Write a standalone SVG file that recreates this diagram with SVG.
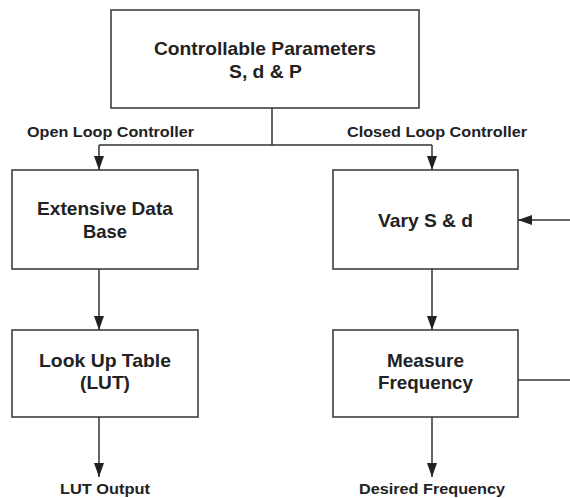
<svg xmlns="http://www.w3.org/2000/svg" width="570" height="498" viewBox="0 0 570 498">
<style>
.box{fill:#fff;stroke:#333;stroke-width:1.5}
.ln{fill:none;stroke:#333;stroke-width:1.5}
.t{font-family:"Liberation Sans",Arial,sans-serif;font-weight:bold;fill:#222;text-anchor:middle}
.b{font-size:18.5px}
.l{font-size:15px}
</style>
<defs>
<marker id="ah" markerUnits="userSpaceOnUse" markerWidth="14" markerHeight="10" refX="14" refY="5" orient="auto">
<path d="M0,0 L14,5 L0,10 z" fill="#222"/>
</marker>
</defs>
<rect width="570" height="498" fill="#fff"/>
<g id="connectors">
<path class="ln" d="M272,108 V145 M99,145 H432"/>
<path class="ln" d="M99,145 V170" marker-end="url(#ah)"/>
<path class="ln" d="M432,145 V170" marker-end="url(#ah)"/>
<path class="ln" d="M99,269 V330" marker-end="url(#ah)"/>
<path class="ln" d="M432,269 V330" marker-end="url(#ah)"/>
<path class="ln" d="M99,417 V477" marker-end="url(#ah)"/>
<path class="ln" d="M432,417 V477" marker-end="url(#ah)"/>
<path class="ln" d="M570,220 H518" marker-end="url(#ah)"/>
<path class="ln" d="M518,380 H570"/>
</g>
<g id="params">
<rect class="box" x="111" y="10" width="308" height="98"/>
<text class="t b" x="265" y="55" textLength="222" lengthAdjust="spacingAndGlyphs">Controllable Parameters</text>
<text class="t b" x="265.5" y="78" textLength="73" lengthAdjust="spacingAndGlyphs">S, d &amp; P</text>
</g>
<g id="label-open">
<text class="t l" x="110.5" y="137" textLength="167" lengthAdjust="spacingAndGlyphs">Open Loop Controller</text>
</g>
<g id="label-closed">
<text class="t l" x="437" y="137" textLength="180" lengthAdjust="spacingAndGlyphs">Closed Loop Controller</text>
</g>
<g id="database">
<rect class="box" x="12" y="170" width="186" height="99"/>
<text class="t b" x="105" y="215" textLength="136" lengthAdjust="spacingAndGlyphs">Extensive Data</text>
<text class="t b" x="105" y="238" textLength="44" lengthAdjust="spacingAndGlyphs">Base</text>
</g>
<g id="vary">
<rect class="box" x="333" y="170" width="185" height="99"/>
<text class="t b" x="425.5" y="227" textLength="95" lengthAdjust="spacingAndGlyphs">Vary S &amp; d</text>
</g>
<g id="lut">
<rect class="box" x="12" y="330" width="186" height="87"/>
<text class="t b" x="105" y="367" textLength="132" lengthAdjust="spacingAndGlyphs">Look Up Table</text>
<text class="t b" x="105" y="389" textLength="50" lengthAdjust="spacingAndGlyphs">(LUT)</text>
</g>
<g id="measure">
<rect class="box" x="333" y="330" width="185" height="87"/>
<text class="t b" x="425.5" y="367" textLength="77" lengthAdjust="spacingAndGlyphs">Measure</text>
<text class="t b" x="425.5" y="389" textLength="95" lengthAdjust="spacingAndGlyphs">Frequency</text>
</g>
<g id="lut-output">
<text class="t l" x="105" y="494" textLength="90" lengthAdjust="spacingAndGlyphs">LUT Output</text>
</g>
<g id="desired">
<text class="t l" x="432" y="494" textLength="146" lengthAdjust="spacingAndGlyphs">Desired Frequency</text>
</g>
</svg>
